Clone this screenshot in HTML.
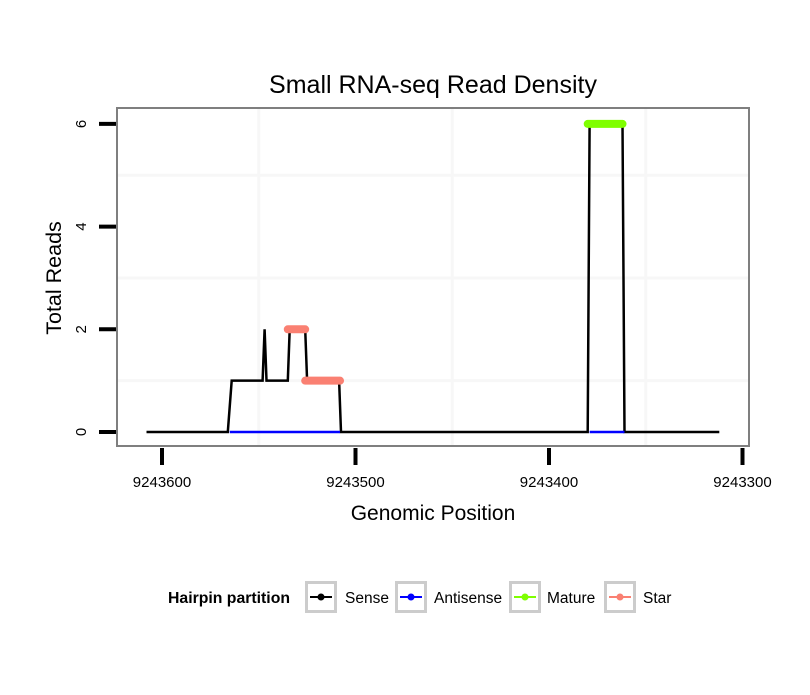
<!DOCTYPE html>
<html><head><meta charset="utf-8"><style>
html,body{margin:0;padding:0;background:#fff;}
svg text{font-family:"Liberation Sans",sans-serif;}
</style></head><body>
<svg id="chart" width="810" height="690" xmlns="http://www.w3.org/2000/svg">
<rect width="810" height="690" fill="#fff"/>
<text x="433" y="93" font-size="25" text-anchor="middle">Small RNA-seq Read Density</text>
<g id="grid"></g>
<g id="series"></g>
<rect x="117" y="108" width="632" height="338" fill="none" stroke="#7f7f7f" stroke-width="2"/>
<g id="axes"></g>
<text x="433" y="520" font-size="21" text-anchor="middle">Genomic Position</text>
<text transform="translate(61,278) rotate(-90)" font-size="21.5" text-anchor="middle">Total Reads</text>
<g id="legend">
<text x="168" y="603" font-size="15.8" font-weight="bold">Hairpin partition</text>
</g>
</svg>
<script>
const xTicks=[9243600,9243500,9243400,9243300];
const yTicks=[0,2,4,6];
const senseX=[9243608,9243566,9243564,9243548,9243547,9243546,9243535,9243534,9243526,9243525,9243508.5,9243507.5,9243380,9243379,9243362,9243361,9243312];
const senseY=[0,0,1,1,2,1,1,2,2,1,1,0,0,6,6,0,0];
const antisenseSegs=[[9243565,9243508],[9243379,9243361]];
const matureSegs=[[9243380,9243362,6]];
const starSegs=[[9243535,9243526,2],[9243526,9243508,1]];
const legendNames=["Sense","Antisense","Mature","Star"];
const legendColors=["#000000","#0000ff","#7fff00","#fa8072"];

const NS="http://www.w3.org/2000/svg";
const xs=v=>162+(9243600-v)*1.935;
const ys=v=>432-v*51.35;
function mk(tag,attrs,parent){const e=document.createElementNS(NS,tag);for(const k in attrs)e.setAttribute(k,attrs[k]);parent.appendChild(e);return e;}
const grid=document.getElementById('grid'),ser=document.getElementById('series'),ax=document.getElementById('axes'),lg=document.getElementById('legend');
for(let i=0;i<xTicks.length;i++){
  const m=xTicks[i]-50;const x=xs(m);
  if(x>117&&x<749){const l=mk('line',{x1:x,x2:x,y1:109,y2:445,stroke:'#f7f7f7','stroke-width':3},grid);
  
  }
}
for(let i=0;i<yTicks.length-1;i++){
  const y=ys((yTicks[i]+yTicks[i+1])/2);
  const l=mk('line',{x1:118,x2:748,y1:y,y2:y,stroke:'#f7f7f7','stroke-width':3},grid);
  
  
}
let d='';senseX.forEach((v,i)=>{d+=(i?'L':'M')+xs(v).toFixed(1)+','+ys(senseY[i]).toFixed(1);});
const sp=mk('path',{d:d,fill:'none',stroke:'#000','stroke-width':2.5,'stroke-linejoin':'miter'},ser);


antisenseSegs.forEach(s=>{
  const l=mk('line',{x1:xs(s[0]),x2:xs(s[1]),y1:ys(0),y2:ys(0),stroke:'#0000ff','stroke-width':2.5},ser);
  
  
});
matureSegs.forEach(s=>{
  const l=mk('line',{x1:xs(s[0]),x2:xs(s[1]),y1:ys(s[2]),y2:ys(s[2]),stroke:'#7fff00','stroke-width':8,'stroke-linecap':'round'},ser);
  
  
});
starSegs.forEach(s=>{
  const l=mk('line',{x1:xs(s[0]),x2:xs(s[1]),y1:ys(s[2]),y2:ys(s[2]),stroke:'#fa8072','stroke-width':8,'stroke-linecap':'round'},ser);
  
  
});
xTicks.forEach(v=>{
  const x=xs(v);
  const t=mk('line',{x1:x,x2:x,y1:448,y2:465,stroke:'#000','stroke-width':4},ax);
  
  
  const tx=mk('text',{x:x,y:487,'font-size':15,'text-anchor':'middle'},ax);tx.textContent=v;
  
  
});
yTicks.forEach(v=>{
  const y=ys(v);
  const t=mk('line',{x1:99,x2:116,y1:y,y2:y,stroke:'#000','stroke-width':4},ax);
  
  
  const tx=mk('text',{transform:'translate(86,'+y+') rotate(-90)','font-size':15,'text-anchor':'middle'},ax);tx.textContent=v;
  
  
});
const boxX=[305,395,509,604],txtX=[345,434,547,643];
legendNames.forEach((n,i)=>{
  const g=mk('g',{},lg);
  
  
  mk('rect',{x:boxX[i]+1.5,y:582.5,width:29,height:29,fill:'#fff',stroke:'#cccccc','stroke-width':3},g);
  mk('line',{x1:boxX[i]+5,x2:boxX[i]+27,y1:597,y2:597,stroke:legendColors[i],'stroke-width':2},g);
  mk('circle',{cx:boxX[i]+16,cy:597,r:3.5,fill:legendColors[i]},g);
  const t=mk('text',{x:txtX[i],y:603,'font-size':15.5},g);t.textContent=n;
});
</script>
</body></html>
